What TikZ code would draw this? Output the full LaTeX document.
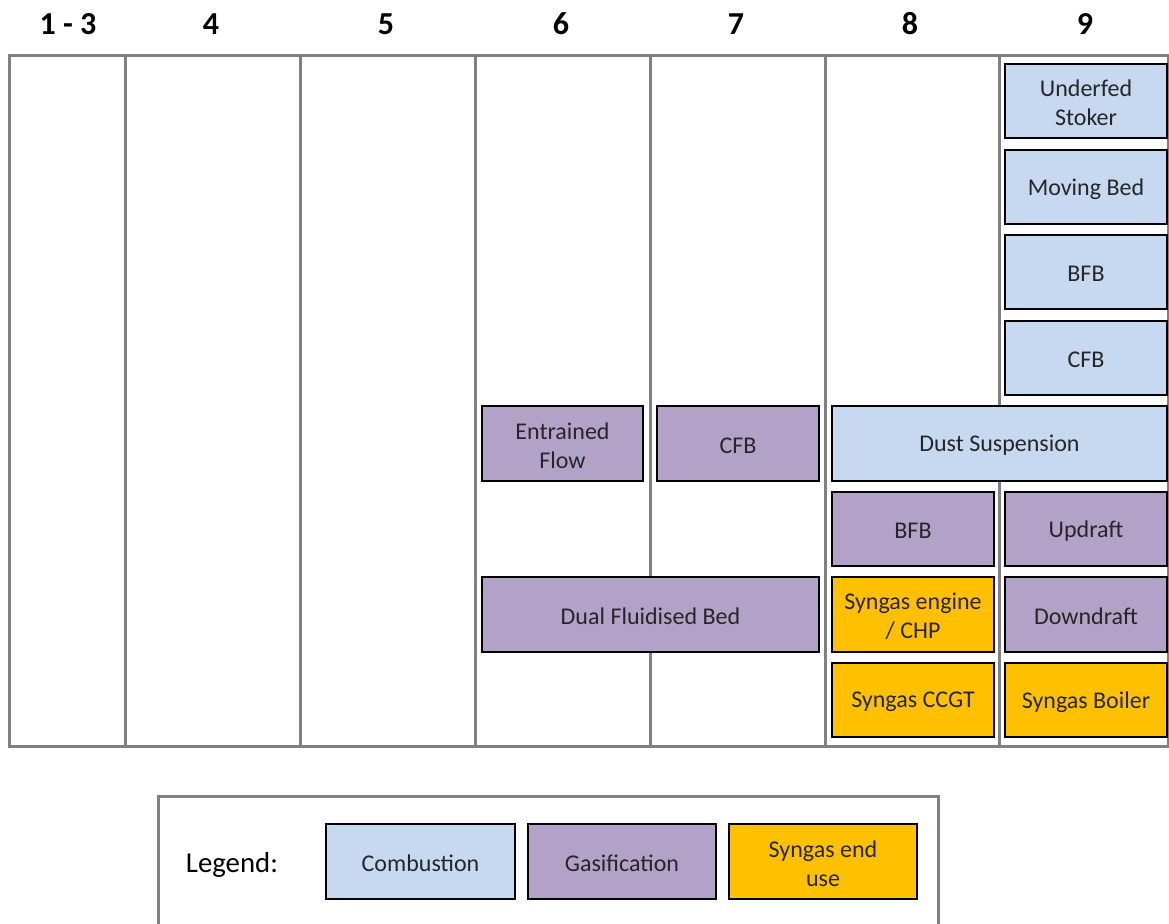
\documentclass[tikz,border=0pt]{standalone}
\usepackage{fontspec}
\setmainfont{Carlito}
\definecolor{comb}{HTML}{C6D9F1}
\definecolor{gasi}{HTML}{B3A2C7}
\definecolor{syng}{HTML}{FFC000}
\definecolor{gridg}{HTML}{808080}
\definecolor{txt}{HTML}{262626}
\begin{document}
\begin{tikzpicture}[x=0.5pt,y=-0.5pt,
  gridline/.style={draw=gridg,line width=1.5pt},
  techbox/.style={draw=black,line width=1pt,inner sep=0pt,text=txt,align=center,
    font=\fontsize{12}{14.5}\selectfont},
  hdr/.style={font=\fontsize{16}{18}\selectfont\bfseries,text=black,inner sep=0pt}]
\useasboundingbox (0,0) rectangle (1169,924);
% headers
\foreach \x/\t/\n in {68/1 - 3/h1, 211/4/h4, 386/5/h5, 561/6/h6, 736/7/h7, 910/8/h8, 1085/9/h9}
  \node[hdr] (\n) at (\x,24) {\t};
% grid
\draw[gridline] (9,56) rectangle (1168,747);
\foreach \x in {125,300,475,650,825,999}
  \draw[gridline] (\x,56) -- (\x,747);
% boxes
\def\B#1#2#3#4#5#6#7{\node[techbox,fill=#2,minimum width={(#5-#3)*0.5pt},minimum height={(#7-#6)*0.5pt}] (#1) at ({(#3+#5)/2},{(#6+#7)/2}) {};
  \node[text=txt,align=center,inner sep=0pt,font=\fontsize{12}{14.5}\selectfont] (#1t) at ({(#3+#5)/2},{(#6+#7)/2+2}) {#4};}
\B{uf}{comb}{1005}{Underfed\\Stoker}{1167}{64}{138}
\B{mb}{comb}{1005}{Moving Bed}{1167}{150}{224}
\B{bfbc}{comb}{1005}{BFB}{1167}{235}{309}
\B{cfbc}{comb}{1005}{CFB}{1167}{321}{395}
\B{ef}{gasi}{482}{Entrained\\Flow}{643}{406}{481}
\B{cfbg}{gasi}{657}{CFB}{819}{406}{481}
\B{ds}{comb}{832}{Dust Suspension}{1167}{406}{481}
\B{bfbg}{gasi}{832}{BFB}{994}{492}{566}
\B{ud}{gasi}{1005}{Updraft}{1167}{492}{566}
\B{dfb}{gasi}{482}{Dual Fluidised Bed}{819}{577}{652}
\B{se}{syng}{832}{Syngas engine\\/ CHP}{994}{577}{652}
\B{dd}{gasi}{1005}{Downdraft}{1167}{577}{652}
\B{sc}{syng}{832}{Syngas CCGT}{994}{663}{737}
\B{sb}{syng}{1005}{Syngas Boiler}{1167}{663}{737}
% legend
\draw[gridline] (158,930) -- (158,797) -- (938,797) -- (938,930);
\node[font=\fontsize{14.4}{16}\selectfont,text=black,inner sep=0pt] (lg) at (232,865) {Legend:};
\B{lc}{comb}{326}{Combustion}{515}{824}{899}
\B{lgs}{gasi}{528}{Gasification}{716}{824}{899}
\B{ls}{syng}{729}{Syngas end\\use}{917}{824}{899}
\end{tikzpicture}
\end{document}
